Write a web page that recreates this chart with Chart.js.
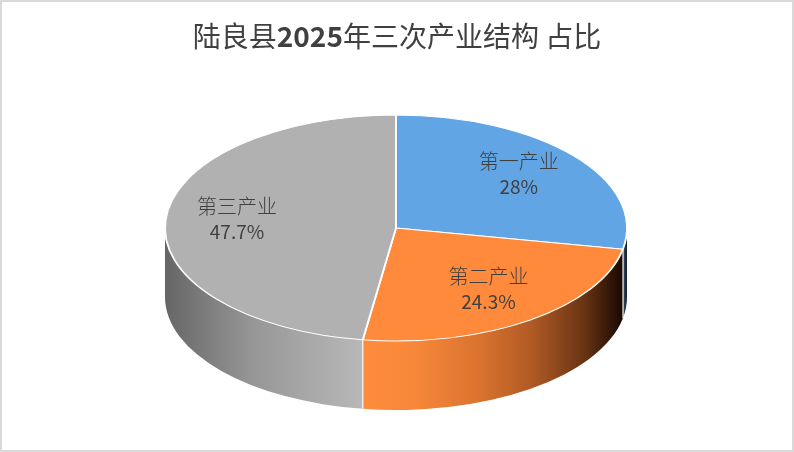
<!DOCTYPE html>
<html>
<head>
<meta charset="utf-8">
<script src="https://cdn.jsdelivr.net/npm/chart.js@4.4.1/dist/chart.umd.min.js"></script>
<style>
  html, body { margin: 0; padding: 0; background: #fff; }
  #wrap { width: 794px; height: 452px; }
</style>
</head>
<body>
<div id="wrap"><canvas id="pie"></canvas></div>
<script>
// Data
const categories = ["第一产业", "第二产业", "第三产业"];
const shares = [28, 24.3, 47.7];
// title is split so the digits can be bold like in the original
const titleParts = [["陆良县", false], ["2025", true], ["年三次产业结构 占比", false]];

// Styles
const topColors = ["#62A5E4", "#FF8A3B", "#B1B1B1"];
const sideStops = [
    [[0, "#3b5570"], [1, "#111a22"]],
    [[0, "#FF8C3C"], [0.2, "#F7873A"], [0.45, "#D9732F"], [0.65, "#B05A24"], [0.85, "#6A3414"], [1, "#170902"]],
    [[0, "#666666"], [0.45, "#979797"], [1, "#B8B8B8"]],
];
const FONT = "'Noto Sans CJK SC', 'Noto Sans', sans-serif";
const TEXT = "#404040";

// where the flattened pie sits on the page
const CX = 396, CY = 228, RX = 231, RY = 113, DEPTH = 69;

function sidePath(ctx, a0, a1) {
    ctx.beginPath();
    ctx.ellipse(CX, CY, RX, RY, 0, a0, a1, false);
    ctx.ellipse(CX, CY + DEPTH, RX, RY, 0, a1, a0, true);
    ctx.closePath();
}

const pie3d = {
    id: "pie3d",
    beforeDatasetsDraw(chart) {
        const ctx = chart.ctx;
        const arcs = chart.getDatasetMeta(0).data;

        // side walls: only the front half (0..PI) can be seen
        ctx.save();
        arcs.forEach((arc, i) => {
            const a0 = Math.max(arc.startAngle, 0);
            const a1 = Math.min(arc.endAngle, Math.PI);
            if (a1 <= a0) return;
            const xl = CX + RX * Math.cos(a1);
            const xr = CX + RX * Math.cos(a0);
            const grad = ctx.createLinearGradient(xl, 0, xr, 0);
            sideStops[i].forEach(s => grad.addColorStop(s[0], s[1]));
            sidePath(ctx, a0, a1);
            ctx.fillStyle = grad;
            ctx.fill();
            ctx.strokeStyle = "rgba(255,255,255,0.9)";
            ctx.lineWidth = 1;
            ctx.beginPath();
            [a0, a1].forEach(a => {
                if (a > 0.02 && a < Math.PI - 0.02) {
                    const x = CX + RX * Math.cos(a), y = CY + RY * Math.sin(a);
                    ctx.moveTo(x, y);
                    ctx.lineTo(x, y + DEPTH);
                }
            });
            ctx.stroke();
        });
        ctx.restore();

        // squash the library's round pie into the top face
        const a = arcs[0];
        ctx.save();
        ctx.translate(CX, CY);
        ctx.scale(RX / a.outerRadius, RY / a.outerRadius);
        ctx.translate(-a.x, -a.y);
    },
    afterDatasetsDraw(chart) {
        const ctx = chart.ctx;
        ctx.restore();

        const arcs = chart.getDatasetMeta(0).data;
        ctx.save();
        ctx.fillStyle = TEXT;
        ctx.textAlign = "center";
        ctx.textBaseline = "middle";
        arcs.forEach((arc, i) => {
            const mid = (arc.startAngle + arc.endAngle) / 2;
            const x = CX + RX * 0.69 * Math.cos(mid);
            const y = CY + RY * 0.7 * Math.sin(mid) - 4;
            ctx.font = "300 20px " + FONT;
            ctx.fillText(categories[i], x, y - 12);
            ctx.font = "19px " + FONT;
            ctx.fillText(shares[i] + "%", x, y + 13);
        });
        ctx.restore();
    },
    afterDraw(chart) {
        const ctx = chart.ctx;
        ctx.save();
        // title
        ctx.fillStyle = TEXT;
        ctx.textBaseline = "middle";
        const fonts = titleParts.map(p => (p[1] ? "bold " : "") + "28px " + FONT);
        const widths = titleParts.map((p, i) => { ctx.font = fonts[i]; return ctx.measureText(p[0]).width; });
        let x = chart.width / 2 - widths.reduce((s, w) => s + w, 0) / 2;
        titleParts.forEach((p, i) => {
            ctx.font = fonts[i];
            ctx.fillText(p[0], x, 36);
            x += widths[i];
        });
        // frame
        ctx.strokeStyle = "#D9D9D9";
        ctx.lineWidth = 2;
        ctx.strokeRect(1, 1, chart.width - 2, chart.height - 2);
        ctx.restore();
    }
};

new Chart(document.getElementById("pie"), {
    type: "pie",
    data: {
        labels: categories,
        datasets: [{
            data: shares,
            backgroundColor: topColors,
            borderColor: "#ffffff",
            borderWidth: 1.5,
            clip: false,
        }],
    },
    options: {
        responsive: true,
        maintainAspectRatio: false,
        animation: false,
        layout: { padding: { top: 70, bottom: 20 } },
        plugins: {
            legend: { display: false },
            tooltip: { enabled: false },
            title: { display: false },
        },
    },
    plugins: [pie3d],
});
</script>
</body>
</html>
